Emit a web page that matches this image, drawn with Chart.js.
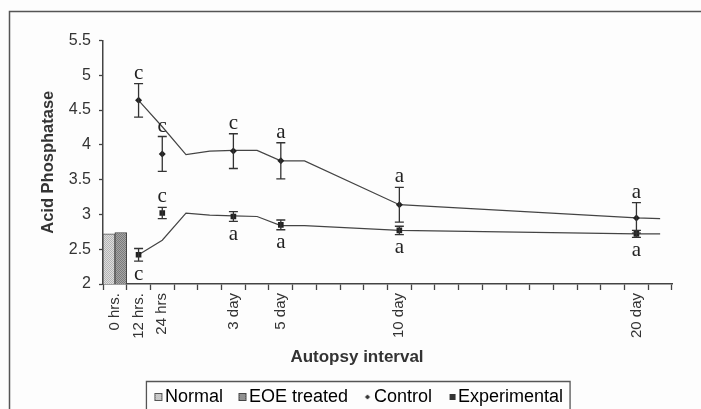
<!DOCTYPE html>
<html><head><meta charset="utf-8">
<script src="https://cdn.jsdelivr.net/npm/chart.js@4/dist/chart.umd.min.js"></script>
<style>html,body{margin:0;padding:0;background:#fff;}canvas{display:block}</style>
</head><body>
<canvas id="c" width="701" height="409"></canvas>
<script>
const N = null;
// x categories (category axis; unlabeled slots keep the Excel spacing)
const categories = ["0 hrs.","12 hrs.","24 hrs","","","3 day","","5 day","","","","","10 day","","","","","","","","","","20 day",""];
// reference bars at 0 hrs
const normalValues = [2.72,N,N,N,N,N,N,N,N,N,N,N,N,N,N,N,N,N,N,N,N,N,N,N];
const eoeValues    = [2.74,N,N,N,N,N,N,N,N,N,N,N,N,N,N,N,N,N,N,N,N,N,N,N];
// Control group means, error and significance letters
const ctrlMean = [N,4.64,3.87,N,N,3.91,N,3.77,N,N,N,N,3.14,N,N,N,N,N,N,N,N,N,2.95,N];
const ctrlErr  = [N,0.24,0.25,N,N,0.25,N,0.26,N,N,N,N,0.25,N,N,N,N,N,N,N,N,N,0.22,N];
const ctrlSig  = [N,"c","c",N,N,"c",N,"a",N,N,N,N,"a",N,N,N,N,N,N,N,N,N,"a",N];
const ctrlSide = [N,"above","above",N,N,"above",N,"above",N,N,N,N,"above",N,N,N,N,N,N,N,N,N,"above",N];
// Experimental group
const expMean = [N,2.42,3.02,N,N,2.97,N,2.85,N,N,N,N,2.77,N,N,N,N,N,N,N,N,N,2.72,N];
const expErr  = [N,0.09,0.08,N,N,0.07,N,0.07,N,N,N,N,0.06,N,N,N,N,N,N,N,N,N,0.05,N];
const expSig  = [N,"c","c",N,N,"a",N,"a",N,N,N,N,"a",N,N,N,N,N,N,N,N,N,"a",N];
const expSide = [N,"below","above",N,N,"below",N,"below",N,N,N,N,"below",N,N,N,N,N,N,N,N,N,"below",N];
// trend lines (gaps spanned)
const ctrlLine = [N,4.64,4.26,3.86,3.91,3.92,3.92,3.77,3.77,N,N,N,3.14,N,N,N,N,N,N,N,N,N,2.95,2.94];
const expLine  = [N,2.42,2.63,3.02,2.99,2.98,2.97,2.84,2.84,N,N,N,2.77,N,N,N,N,N,N,N,N,N,2.72,2.72];
const yTicks = {min: 2, max: 5.5, step: 0.5};
const xTitle = 'Autopsy interval';
const yTitle = 'Acid Phosphatase';

function makePattern(base, dot) {
  const c = document.createElement('canvas'); c.width = 2; c.height = 2;
  const g = c.getContext('2d');
  g.fillStyle = base; g.fillRect(0,0,2,2);
  g.fillStyle = dot; g.fillRect(0,0,1,1); g.fillRect(1,1,1,1);
  return document.getElementById('c').getContext('2d').createPattern(c, 'repeat');
}
const normalFill = makePattern('#dedede', '#b4b4b4');
const eoeFill = makePattern('#a6a6a6', '#7a7a7a');

function mkIcon(draw) {
  const c = document.createElement('canvas'); c.width = 18; c.height = 10;
  draw(c.getContext('2d')); return c;
}
const icons = [
  mkIcon(g => { g.fillStyle = normalFill; g.fillRect(8,1,8,8); g.strokeStyle='#555'; g.lineWidth=1; g.strokeRect(8.5,1.5,7,7); }),
  mkIcon(g => { g.fillStyle = eoeFill; g.fillRect(8,1,8,8); g.strokeStyle='#444'; g.lineWidth=1; g.strokeRect(8.5,1.5,7,7); }),
  mkIcon(g => { g.fillStyle = '#333'; g.beginPath(); g.moveTo(12,2.5); g.lineTo(14.5,5); g.lineTo(12,7.5); g.lineTo(9.5,5); g.closePath(); g.fill(); }),
  mkIcon(g => { g.fillStyle = '#333'; g.fillRect(10,2,6,6); })
];

const errorBarPlugin = {
  id: 'errbars',
  afterDatasetsDraw(chart) {
    const ctx = chart.ctx, y = chart.scales.y;
    chart.data.datasets.forEach((ds, di) => {
      if (!ds.errors) return;
      const meta = chart.getDatasetMeta(di);
      ds.data.forEach((v, i) => {
        if (v == null || ds.errors[i] == null) return;
        const px = meta.data[i].x;
        const top = y.getPixelForValue(v + ds.errors[i]);
        const bot = y.getPixelForValue(v - ds.errors[i]);
        ctx.save();
        ctx.strokeStyle = '#333'; ctx.lineWidth = 1.3;
        ctx.beginPath();
        ctx.moveTo(px, top); ctx.lineTo(px, bot);
        ctx.moveTo(px - 4.5, top); ctx.lineTo(px + 4.5, top);
        ctx.moveTo(px - 4.5, bot); ctx.lineTo(px + 4.5, bot);
        ctx.stroke();
        if (ds.sig && ds.sig[i]) {
          ctx.font = '21px "Liberation Serif", "Times New Roman", serif';
          ctx.fillStyle = '#222'; ctx.textAlign = 'center'; ctx.textBaseline = 'alphabetic';
          if (ds.sigSide[i] === 'below') ctx.fillText(ds.sig[i], px, bot + 18.5);
          else ctx.fillText(ds.sig[i], px, top - 5);
        }
        ctx.restore();
      });
    });
  }
};

const framePlugin = {
  id: 'frame',
  beforeDraw(chart) {
    const ctx = chart.ctx;
    ctx.save();
    ctx.fillStyle = '#fdfdfd'; ctx.fillRect(0, 0, chart.width, chart.height);
    ctx.strokeStyle = '#555'; ctx.lineWidth = 1.5;
    ctx.beginPath(); ctx.moveTo(9.5, chart.height + 2); ctx.lineTo(9.5, 11.5); ctx.lineTo(chart.width + 2, 11.5); ctx.stroke();
    ctx.restore();
  },
  afterDraw(chart) {
    const ctx = chart.ctx;
    // x-axis title (centred as in the original figure, not on the plot area)
    ctx.save();
    ctx.font = 'bold 17px "Liberation Sans", Arial, sans-serif';
    ctx.fillStyle = '#333'; ctx.textAlign = 'center'; ctx.textBaseline = 'middle';
    ctx.fillText(xTitle, 357, 357);
    ctx.restore();
    const lg = chart.legend; if (!lg || !lg.legendHitBoxes.length) return;
    const hb = lg.legendHitBoxes, last = hb[hb.length - 1];
    ctx.save(); ctx.strokeStyle = '#555'; ctx.lineWidth = 1.3;
    const l = hb[0].left - 8.5, r = last.left + last.width + 7, t = lg.top + 9.5;
    ctx.beginPath(); ctx.moveTo(l, chart.height + 5); ctx.lineTo(l, t); ctx.lineTo(r, t); ctx.lineTo(r, chart.height + 5); ctx.stroke();
    ctx.restore();
  }
};

Chart.defaults.font.family = '"Liberation Sans", Arial, sans-serif';
Chart.defaults.color = '#333';

new Chart(document.getElementById('c'), {
  type: 'bar',
  data: {
    labels: categories,
    datasets: [
      {label: 'Normal', data: normalValues, backgroundColor: normalFill, borderColor: '#555', borderWidth: 1, barPercentage: 1, categoryPercentage: 1},
      {label: 'EOE treated', data: eoeValues, backgroundColor: eoeFill, borderColor: '#444', borderWidth: 1, barPercentage: 1, categoryPercentage: 1},
      {type: 'line', label: 'Control', data: ctrlMean, errors: ctrlErr, sig: ctrlSig, sigSide: ctrlSide, showLine: false, pointStyle: 'rectRot', pointRadius: 3.5, backgroundColor: '#222', borderColor: '#222', borderWidth: 0},
      {type: 'line', label: 'Experimental', data: expMean, errors: expErr, sig: expSig, sigSide: expSide, showLine: false, pointStyle: 'rect', pointRadius: 4, backgroundColor: '#222', borderColor: '#222', borderWidth: 0},
      {type: 'line', label: 'Control trend', data: ctrlLine, spanGaps: true, pointRadius: 0, borderColor: '#444', borderWidth: 1.2, fill: false, tension: 0},
      {type: 'line', label: 'Experimental trend', data: expLine, spanGaps: true, pointRadius: 0, borderColor: '#444', borderWidth: 1.2, fill: false, tension: 0}
    ]
  },
  options: {
    responsive: false,
    animation: false,
    events: [],
    layout: {padding: {left: 46, right: 29, top: 40.5, bottom: 0}},
    plugins: {
      tooltip: {enabled: false},
      legend: {
        position: 'bottom',
        maxHeight: 37,
        labels: {
          usePointStyle: true, boxWidth: 1, boxHeight: 8, padding: 16,
          color: '#222', font: {size: 18},
          generateLabels(chart) {
            return chart.data.datasets.slice(0, 4).map((ds, i) => ({
              text: ds.label, pointStyle: icons[i], fillStyle: 'transparent', strokeStyle: 'transparent',
              lineWidth: 0, hidden: false, datasetIndex: i
            }));
          }
        }
      }
    },
    scales: {
      x: {
        offset: true,
        grid: {offset: true, drawOnChartArea: false, tickLength: 6, color: '#444', tickWidth: 1.3},
        border: {color: '#444', width: 1.5},
        ticks: {autoSkip: false, minRotation: 90, maxRotation: 90, padding: 3, font: {size: 15}, color: '#333'},
        afterFit(s) { s.height = 88; s.paddingLeft = 0; s.paddingRight = 0; }
      },
      y: {
        min: yTicks.min, max: yTicks.max,
        grid: {drawOnChartArea: false, tickLength: 4, color: '#444', tickWidth: 1.3},
        border: {color: '#444', width: 1.5},
        ticks: {stepSize: yTicks.step, padding: 8, font: {size: 16}, color: '#333', callback: v => String(v)},
        title: {display: true, text: yTitle, font: {size: 16.5, weight: 'bold'}, color: '#333', padding: {top: -7.9, bottom: 0}},
        afterFit(s) { s.width = 57; s.paddingTop = 0; s.paddingBottom = 0; }
      }
    }
  },
  plugins: [framePlugin, errorBarPlugin]
});
</script>
</body></html>
